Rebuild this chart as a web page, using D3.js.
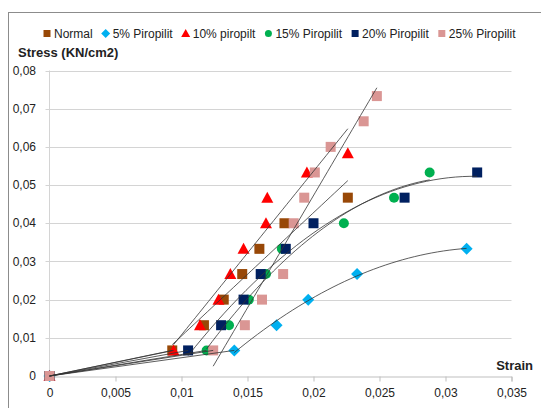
<!DOCTYPE html>
<html>
<head>
<meta charset="utf-8">
<script src="https://cdn.jsdelivr.net/npm/d3@7"></script>
<style>
body { margin: 0; background: #fff; }
text { font-family: "Liberation Sans", Arial, sans-serif; }
</style>
</head>
<body>
<script>
// data (strain, stress in KN/cm2)
var seriesNames = ["Normal", "5% Piropilit", "10% piropilt", "15% Piropilit", "20% Piropilit", "25% Piropilit"];
var normalStrain = [0, 0.0093, 0.0117, 0.0132, 0.0146, 0.0159, 0.0178, 0.0226];
var normalStress = [0, 0.0067, 0.0133, 0.02, 0.0267, 0.0333, 0.04, 0.0467];
var p5Strain = [0, 0.0140, 0.0172, 0.0196, 0.0233, 0.0316];
var p5Stress = [0, 0.0067, 0.0133, 0.02, 0.0267, 0.0333];
var p10Strain = [0, 0.0094, 0.0114, 0.0128, 0.0137, 0.0147, 0.0164, 0.0165, 0.0195, 0.0226];
var p10Stress = [0, 0.0067, 0.0133, 0.02, 0.0267, 0.0333, 0.04, 0.0467, 0.0533, 0.0583];
var p15Strain = [0, 0.0119, 0.0136, 0.0151, 0.0164, 0.0176, 0.0223, 0.0261, 0.0288];
var p15Stress = [0, 0.0067, 0.0133, 0.02, 0.0267, 0.0333, 0.04, 0.0467, 0.0533];
var p20Strain = [0, 0.0105, 0.0130, 0.0147, 0.0160, 0.0179, 0.0200, 0.0269, 0.0324];
var p20Stress = [0, 0.0067, 0.0133, 0.02, 0.0267, 0.0333, 0.04, 0.0467, 0.0533];
var p25Strain = [0, 0.0124, 0.0148, 0.0161, 0.0177, 0.0185, 0.0193, 0.0201, 0.0213, 0.0238, 0.0248];
var p25Stress = [0, 0.0067, 0.0133, 0.02, 0.0267, 0.04, 0.0467, 0.0533, 0.06, 0.0667, 0.0733];
var xTicks = [0, 0.005, 0.01, 0.015, 0.02, 0.025, 0.03, 0.035];
var yTicks = [0, 0.01, 0.02, 0.03, 0.04, 0.05, 0.06, 0.07, 0.08];

var colors = ["#984807", "#00B0F0", "#FF0000", "#00B050", "#002060", "#DA9694"];
var shapes = ["square", "diamond", "triangle", "circle", "square", "square"];
var trendType = ["linear", "poly", "linear", "poly", "poly", "linear"];
var strains = [normalStrain, p5Strain, p10Strain, p15Strain, p20Strain, p25Strain];
var stresses = [normalStress, p5Stress, p10Stress, p15Stress, p20Stress, p25Stress];

var width = 541, height = 408;
var svg = d3.select("body").append("svg")
  .attr("width", width)
  .attr("height", height);

var x = d3.scaleLinear().domain([0, 0.035]).range([49.5, 511.5]);
var y = d3.scaleLinear().domain([0, 0.08]).range([376, 70.5]);
var fmt = function(d) { return d === 0 ? "0" : String(+d.toFixed(3)).replace(".", ","); };

// chart frame (cut off at right and bottom)
svg.append("rect")
  .attr("x", 8.5).attr("y", 12.5)
  .attr("width", 700).attr("height", 600)
  .attr("fill", "none").attr("stroke", "#8c8c8c");

// gridlines
svg.append("g").selectAll("line")
  .data(yTicks.slice(1)).enter().append("line")
  .attr("x1", x(0) - 4).attr("x2", x(0.035))
  .attr("y1", function(d) { return Math.round(y(d)) + 0.5; })
  .attr("y2", function(d) { return Math.round(y(d)) + 0.5; })
  .attr("stroke", "#d4d4d4");

// y axis line
svg.append("line")
  .attr("x1", x(0)).attr("x2", x(0))
  .attr("y1", y(0.08)).attr("y2", y(0))
  .attr("stroke", "#d4d4d4");

// x axis
var xAxis = d3.axisBottom(x).tickValues(xTicks).tickFormat(fmt).tickSize(5).tickPadding(7);
var gx = svg.append("g").attr("transform", "translate(0," + (Math.round(y(0)) + 0.5) + ")").call(xAxis);
gx.select(".domain").attr("stroke", "#bfbfbf");
gx.selectAll(".tick line").attr("stroke", "#bfbfbf");
gx.selectAll("text").attr("font-size", 12).attr("fill", "#222")
  .attr("font-family", "Liberation Sans, Arial, sans-serif");

// y tick labels
svg.append("g").selectAll("text")
  .data(yTicks).enter().append("text")
  .attr("x", 36)
  .attr("y", function(d) { return y(d); })
  .attr("dy", "0.35em")
  .attr("text-anchor", "end")
  .attr("font-size", 12)
  .attr("fill", "#222")
  .text(fmt);

// axis titles
svg.append("text").attr("x", 18).attr("y", 57)
  .attr("font-size", 13).attr("font-weight", "bold").attr("fill", "#222")
  .text("Stress (KN/cm2)");
svg.append("text").attr("x", 533).attr("y", 370)
  .attr("text-anchor", "end")
  .attr("font-size", 13).attr("font-weight", "bold").attr("fill", "#222")
  .text("Strain");

function markerPath(shape, s) {
  var h = s / 2;
  if (shape == "square") return "M" + (-h) + "," + (-h) + "h" + s + "v" + s + "h" + (-s) + "Z";
  if (shape == "diamond") return "M0," + (-h - 1) + "L" + (h + 1) + ",0L0," + (h + 1) + "L" + (-h - 1) + ",0Z";
  if (shape == "triangle") return "M0," + (-h - 1) + "L" + (h + 1) + "," + (h) + "L" + (-h - 1) + "," + (h) + "Z";
  return "M" + h + ",0A" + h + "," + h + " 0 1,1 " + (-h) + ",0A" + h + "," + h + " 0 1,1 " + h + ",0Z";
}

// markers
seriesNames.forEach(function(name, si) {
  var pts = strains[si].map(function(v, i) { return [v, stresses[si][i]]; });
  svg.append("g").selectAll("path")
    .data(pts).enter().append("path")
    .attr("transform", function(d) { return "translate(" + x(d[0]) + "," + y(d[1]) + ")"; })
    .attr("d", markerPath(shapes[si], 10))
    .attr("fill", colors[si]);
});

// fitted lines: origin -> first point, then linear / 2nd order trend over the rest
function linFit(xs, ys) {
  var n = xs.length, mx = d3.mean(xs), my = d3.mean(ys), sxy = 0, sxx = 0;
  for (var i = 0; i < n; i++) { sxy += (xs[i] - mx) * (ys[i] - my); sxx += (xs[i] - mx) * (xs[i] - mx); }
  var b = sxy / sxx;
  return function(v) { return my + b * (v - mx); };
}
function polyFit(xs, ys) {
  var S = [0, 0, 0, 0, 0], T = [0, 0, 0];
  for (var i = 0; i < xs.length; i++) {
    for (var k = 0; k < 5; k++) S[k] += Math.pow(xs[i], k);
    for (var k = 0; k < 3; k++) T[k] += ys[i] * Math.pow(xs[i], k);
  }
  var A = [[S[0], S[1], S[2], T[0]], [S[1], S[2], S[3], T[1]], [S[2], S[3], S[4], T[2]]];
  for (var c = 0; c < 3; c++) {
    for (var r = c + 1; r < 3; r++) {
      var f = A[r][c] / A[c][c];
      for (var k = c; k < 4; k++) A[r][k] -= f * A[c][k];
    }
  }
  var coef = [0, 0, 0];
  for (var r = 2; r >= 0; r--) {
    var s = A[r][3];
    for (var k = r + 1; k < 3; k++) s -= A[r][k] * coef[k];
    coef[r] = s / A[r][r];
  }
  return function(v) { return coef[0] + coef[1] * v + coef[2] * v * v; };
}

var line = d3.line().x(function(d) { return x(d[0]); }).y(function(d) { return y(d[1]); });
seriesNames.forEach(function(name, si) {
  var xs = strains[si].slice(1), ys = stresses[si].slice(1);
  svg.append("path")
    .attr("d", line([[0, 0], [xs[0], ys[0]]]))
    .attr("fill", "none").attr("stroke", "#333").attr("stroke-width", 0.8);
  var fn = trendType[si] == "linear" ? linFit(xs, ys) : polyFit(xs, ys);
  var x0 = d3.min(xs), x1 = d3.max(xs);
  var pts = d3.range(0, 41).map(function(i) { var v = x0 + (x1 - x0) * i / 40; return [v, fn(v)]; });
  svg.append("path")
    .attr("d", line(pts))
    .attr("fill", "none").attr("stroke", "#333").attr("stroke-width", 0.8);
});

// legend
var lx = 43;
seriesNames.forEach(function(name, si) {
  svg.append("path")
    .attr("transform", "translate(" + (lx + 4) + ",33.5)")
    .attr("d", markerPath(shapes[si], 7))
    .attr("fill", colors[si]);
  var t = svg.append("text")
    .attr("x", lx + 11).attr("y", 37.5)
    .attr("font-size", 12).attr("fill", "#222")
    .text(name);
  lx = lx + 11 + t.node().getComputedTextLength() + 9;
});
</script>
</body>
</html>
